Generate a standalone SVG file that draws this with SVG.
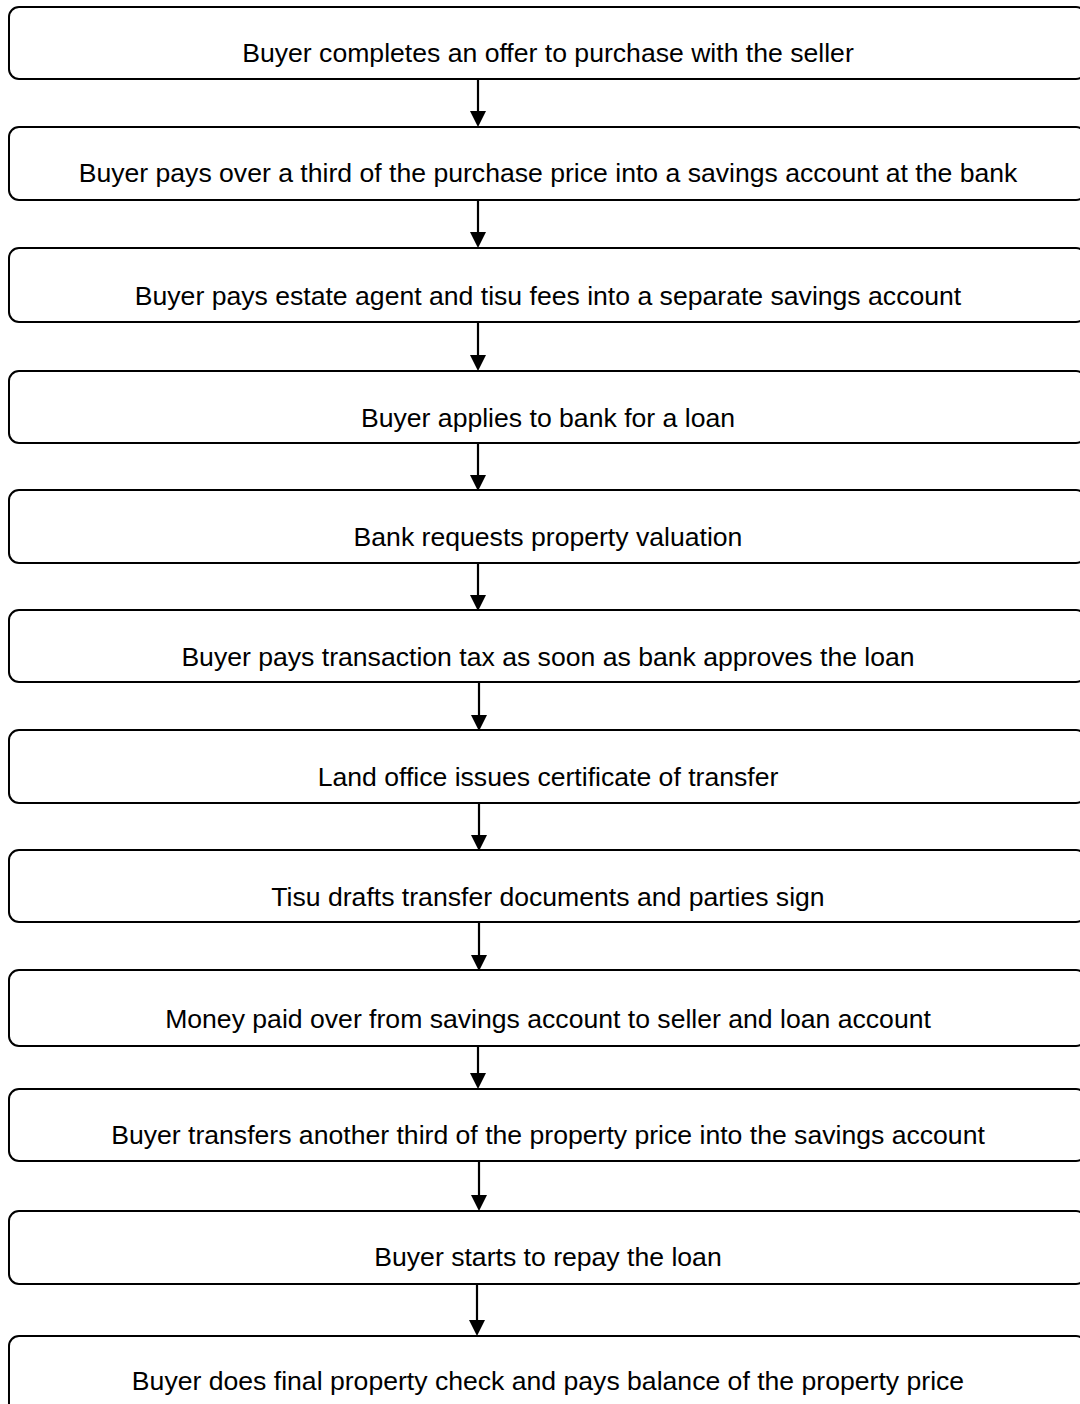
<svg xmlns="http://www.w3.org/2000/svg" width="1080" height="1404" viewBox="0 0 1080 1404">
  <style>
    .box { fill: #ffffff; stroke: #000000; stroke-width: 2; }
    .label { font-family: "Liberation Sans", Arial, sans-serif; font-size: 26.6px; fill: #000000; text-anchor: middle; }
    .link { stroke: #000000; stroke-width: 2.2; fill: none; marker-end: url(#head); }
  </style>
  <defs>
    <marker id="head" markerUnits="userSpaceOnUse" markerWidth="17" markerHeight="17" refX="0" refY="8" orient="auto">
      <path d="M0,0 L16,8 L0,16 z" fill="#000000"/>
    </marker>
  </defs>
  <rect x="0" y="0" width="1080" height="1404" fill="#ffffff"/>

  <g id="connectors">
    <line class="link" x1="478" y1="79" x2="478" y2="111"/>
    <line class="link" x1="478" y1="200" x2="478" y2="232"/>
    <line class="link" x1="478" y1="322" x2="478" y2="355"/>
    <line class="link" x1="478" y1="443" x2="478" y2="475"/>
    <line class="link" x1="478" y1="563" x2="478" y2="595"/>
    <line class="link" x1="479" y1="682" x2="479" y2="715"/>
    <line class="link" x1="479" y1="803" x2="479" y2="835"/>
    <line class="link" x1="479" y1="922" x2="479" y2="955"/>
    <line class="link" x1="478" y1="1046" x2="478" y2="1073"/>
    <line class="link" x1="479" y1="1161" x2="479" y2="1195"/>
    <line class="link" x1="477" y1="1284" x2="477" y2="1320"/>
  </g>

  <g id="step1">
    <rect class="box" x="9" y="7" width="1077" height="72" rx="10" ry="10"/>
    <text class="label" x="548" y="62">Buyer completes an offer to purchase with the seller</text>
  </g>
  <g id="step2">
    <rect class="box" x="9" y="127" width="1077" height="73" rx="10" ry="10"/>
    <text class="label" x="548" y="182">Buyer pays over a third of the purchase price into a savings account at the bank</text>
  </g>
  <g id="step3">
    <rect class="box" x="9" y="248" width="1077" height="74" rx="10" ry="10"/>
    <text class="label" x="548" y="305">Buyer pays estate agent and tisu fees into a separate savings account</text>
  </g>
  <g id="step4">
    <rect class="box" x="9" y="371" width="1077" height="72" rx="10" ry="10"/>
    <text class="label" x="548" y="427">Buyer applies to bank for a loan</text>
  </g>
  <g id="step5">
    <rect class="box" x="9" y="490" width="1077" height="73" rx="10" ry="10"/>
    <text class="label" x="548" y="546">Bank requests property valuation</text>
  </g>
  <g id="step6">
    <rect class="box" x="9" y="610" width="1077" height="72" rx="10" ry="10"/>
    <text class="label" x="548" y="666">Buyer pays transaction tax as soon as bank approves the loan</text>
  </g>
  <g id="step7">
    <rect class="box" x="9" y="730" width="1077" height="73" rx="10" ry="10"/>
    <text class="label" x="548" y="786">Land office issues certificate of transfer</text>
  </g>
  <g id="step8">
    <rect class="box" x="9" y="850" width="1077" height="72" rx="10" ry="10"/>
    <text class="label" x="548" y="906">Tisu drafts transfer documents and parties sign</text>
  </g>
  <g id="step9">
    <rect class="box" x="9" y="970" width="1077" height="76" rx="10" ry="10"/>
    <text class="label" x="548" y="1028">Money paid over from savings account to seller and loan account</text>
  </g>
  <g id="step10">
    <rect class="box" x="9" y="1089" width="1077" height="72" rx="10" ry="10"/>
    <text class="label" x="548" y="1144">Buyer transfers another third of the property price into the savings account</text>
  </g>
  <g id="step11">
    <rect class="box" x="9" y="1211" width="1077" height="73" rx="10" ry="10"/>
    <text class="label" x="548" y="1266">Buyer starts to repay the loan</text>
  </g>
  <g id="step12">
    <rect class="box" x="9" y="1336" width="1077" height="80" rx="10" ry="10"/>
    <text class="label" x="548" y="1390">Buyer does final property check and pays balance of the property price</text>
  </g>
</svg>
